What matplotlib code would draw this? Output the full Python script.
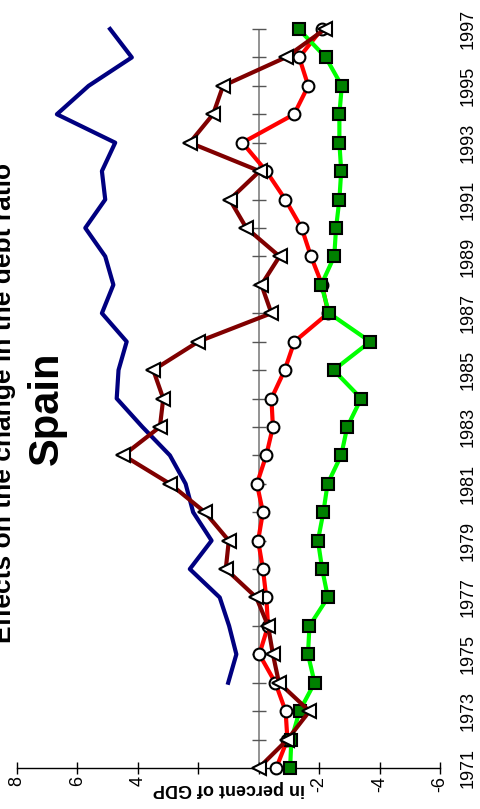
import numpy as np
import matplotlib
matplotlib.use("Agg")
import matplotlib.pyplot as plt

plt.rcParams['font.family'] = ['Liberation Sans', 'DejaVu Sans']

# ---- data -------------------------------------------------------------
years = list(range(1971, 1998))
year_ticks = list(range(1971, 1998, 2))
year_labels = [str(y) for y in year_ticks]
value_ticks = [8, 6, 4, 2, 0, -2, -4, -6]
value_labels = [str(v) for v in value_ticks]

# navy line (no markers, starts in 1974)
navy_line = [np.nan, np.nan, np.nan,
             1.01, 0.74, 0.98, 1.29, 2.28, 1.56, 2.17, 2.42, 2.94, 3.85,
             4.70, 4.64, 4.37, 5.19, 4.81, 5.08, 5.74, 5.08, 5.19, 4.75,
             6.68, 5.63, 4.20, 4.92]

# maroon line with triangles
maroon_tri = [0.00, -0.95, -1.68, -0.67, -0.47, -0.31, 0.08, 1.09, 0.99,
              1.78, 2.94, 4.48, 3.27, 3.16, 3.49, 2.00, -0.42, -0.09,
              -0.69, 0.41, 0.96, -0.03, 2.28, 1.51, 1.18, -0.89, -2.20]

# red line with circles
red_circ = [-0.58, -0.95, -0.89, -0.55, -0.02, -0.31, -0.25, -0.14, 0.02,
            -0.14, 0.06, -0.25, -0.47, -0.42, -0.86, -1.18, -2.30, -2.10,
            -1.73, -1.42, -0.88, -0.25, 0.54, -1.17, -1.64, -1.34, -2.09]

# green line with squares
green_sq = [-1.04, -1.08, -1.35, -1.85, -1.63, -1.68, -2.29, -2.10, -1.96,
            -2.14, -2.28, -2.73, -2.93, -3.39, -2.48, -3.69, -2.33, -2.07,
            -2.50, -2.56, -2.67, -2.73, -2.67, -2.67, -2.75, -2.22, -1.32]

# ---- figure -----------------------------------------------------------
W, H = 480, 809
fig = plt.figure(figsize=(W / 100, H / 100), dpi=100)
fig.patch.set_facecolor('white')

left, right, top, bottom = 17, 440, 29, 768
ax = fig.add_axes([left / W, 1 - bottom / H, (right - left) / W, (bottom - top) / H])
ax.set_xlim(8, -6)
ax.set_ylim(1971, 1997)
ax.patch.set_alpha(0)

for side in ('top', 'right', 'left'):
    ax.spines[side].set_visible(False)
ax.spines['bottom'].set_color('black')
ax.spines['bottom'].set_linewidth(1.0)

ax.set_xticks(value_ticks)
ax.set_xticklabels(value_labels)
ax.tick_params(axis='x', direction='inout', length=8, width=1, color='black',
               labelsize=13, pad=2, labelrotation=90)
# the axis title sits over the labels of the two middle ticks
for tick_val, lbl in zip(value_ticks, ax.get_xticklabels()):
    if tick_val in (2, 0):
        lbl.set_visible(False)

ax.yaxis.tick_right()
ax.set_yticks(year_ticks)
ax.set_yticklabels(year_labels)
ax.tick_params(axis='y', length=0, labelsize=13, pad=14, labelrotation=90)
for lbl in ax.get_yticklabels():
    lbl.set_va('center')

# zero line with a tick at every year
ax.axvline(0, color='#808080', lw=1.2, zorder=1)
ax.plot([0] * len(years), years, ls='none', marker='_', ms=10, mew=1.0,
        color='#555555', zorder=1, clip_on=False)

lw = 3.0
ax.plot(navy_line, years, color='#000080', lw=lw, zorder=2, clip_on=False)
ax.plot(red_circ, years, color='#FF0000', lw=lw, marker='o', ms=8.5,
        mfc='white', mec='black', mew=1.5, zorder=3, clip_on=False)
ax.plot(green_sq, years, color='#00FF00', lw=lw, marker='s', ms=8,
        mfc='#008000', mec='black', mew=1.5, zorder=4, clip_on=False)
ax.plot(maroon_tri, years, color='#800000', lw=lw, marker='<', ms=10.5,
        mfc='white', mec='black', mew=1.5, zorder=5, clip_on=False)

# ---- titles -----------------------------------------------------------
fig.text(11 / W, 1 - 403 / H, 'Effects on the change in the debt ratio',
         rotation=90, rotation_mode='anchor', ha='center', va='baseline',
         fontsize=19, fontweight='bold')
fig.text(58 / W, 1 - 408 / H, 'Spain',
         rotation=90, rotation_mode='anchor', ha='center', va='baseline',
         fontsize=30, fontweight='bold')
fig.text((left + right) / 2 / W, 1 - 789 / H, 'in percent of GDP',
         rotation=180, ha='center', va='center', fontsize=13, fontweight='bold',
         zorder=10)

fig.savefig('out.png', dpi=100)
